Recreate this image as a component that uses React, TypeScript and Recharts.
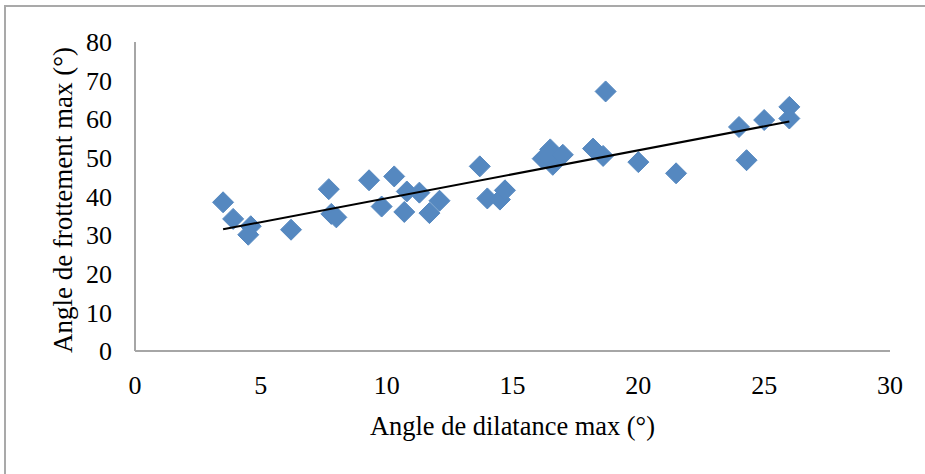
import { ScatterChart, Scatter, XAxis, YAxis, Label } from 'recharts';

// valeurs
const dilatance = [3.5, 3.9, 4.6, 4.5, 6.2, 7.7, 7.8, 8.0, 9.3, 9.8, 10.3, 10.8, 10.7, 11.3, 11.7, 12.1, 13.7, 14.0, 14.5, 14.7, 16.2, 16.5, 16.6, 16.4, 17.0, 18.2, 18.6, 18.7, 20.0, 21.5, 24.0, 24.3, 25.0, 26.0, 26.0];
const frottement = [38.5, 34.2, 32.3, 30.1, 31.4, 41.9, 35.5, 34.6, 44.2, 37.4, 45.2, 41.3, 36.0, 41.0, 35.7, 38.9, 47.8, 39.5, 39.2, 41.6, 49.8, 52.2, 48.2, 50.6, 50.8, 52.4, 50.5, 67.2, 48.9, 46.0, 58.0, 49.4, 59.8, 63.2, 60.2];

// droite de tendance (extrémités lues)
const trendX = [3.5, 26.0];
const trendY = [31.5, 59.4];

const xTicks = [0, 5, 10, 15, 20, 25, 30];
const yTicks = [0, 10, 20, 30, 40, 50, 60, 70, 80];

const FONT = '"Liberation Serif", "Times New Roman", serif';
const BLUE = '#5588C0';

const points = dilatance.map((x, i) => ({ x, y: frottement[i] }));
const trend = trendX.map((x, i) => ({ x, y: trendY[i] }));

const Diamond = (props: any) => {
  const { cx, cy } = props;
  if (cx == null || cy == null) return <g />;
  const r = 10.5;
  return (
    <polygon
      points={`${cx},${cy - r} ${cx + r},${cy} ${cx},${cy + r} ${cx - r},${cy}`}
      fill={BLUE}
      stroke={BLUE}
      strokeWidth={1}
      strokeLinejoin="round"
    />
  );
};

const XTitle = (props: any) => {
  const { viewBox } = props;
  return (
    <text
      x={viewBox.x + viewBox.width / 2}
      y={435}
      textAnchor="middle"
      fontFamily={FONT}
      fontSize={27}
      fill="#000"
      textLength={285}
      lengthAdjust="spacingAndGlyphs"
    >
      Angle de dilatance max (°)
    </text>
  );
};

const YTitle = () => (
  <text
    x={0}
    y={0}
    transform="translate(72, 200) rotate(-90)"
    textAnchor="middle"
    fontFamily={FONT}
    fontSize={27}
    fill="#000"
  >
    Angle de frottement max (°)
  </text>
);

export default function App() {
  return (
    <div style={{ position: 'absolute', left: 0, top: 0, width: 925, height: 474, background: '#fff', overflow: 'hidden' }}>
      <div style={{ position: 'absolute', left: 4, top: 5, width: 940, height: 490, border: '2px solid #a9a9a9' }} />
      <div style={{ position: 'absolute', left: 0, top: 0 }}>
        <ScatterChart width={925} height={474} margin={{ top: 42, right: 35, bottom: 0, left: 0 }}>
          <XAxis
            type="number"
            dataKey="x"
            domain={[0, 30]}
            ticks={xTicks}
            interval={0}
            height={123}
            axisLine={{ stroke: '#a6a6a6', strokeWidth: 2 }}
            tickLine={false}
            tickSize={0}
            tickMargin={25}
            tick={{ fill: '#000', fontSize: 26, fontFamily: FONT }}
          >
            <Label content={<XTitle />} />
          </XAxis>
          <YAxis
            type="number"
            dataKey="y"
            domain={[0, 80]}
            ticks={yTicks}
            interval={0}
            width={135}
            axisLine={{ stroke: '#a6a6a6', strokeWidth: 2 }}
            tickLine={false}
            tickSize={0}
            tickMargin={23}
            tick={{ fill: '#000', fontSize: 26, fontFamily: FONT }}
          >
            <Label content={<YTitle />} />
          </YAxis>
          <Scatter data={points} shape={<Diamond />} isAnimationActive={false} />
          <Scatter
            data={trend}
            line={{ stroke: '#000', strokeWidth: 2 }}
            shape={() => <g />}
            isAnimationActive={false}
          />
        </ScatterChart>
      </div>
    </div>
  );
}
